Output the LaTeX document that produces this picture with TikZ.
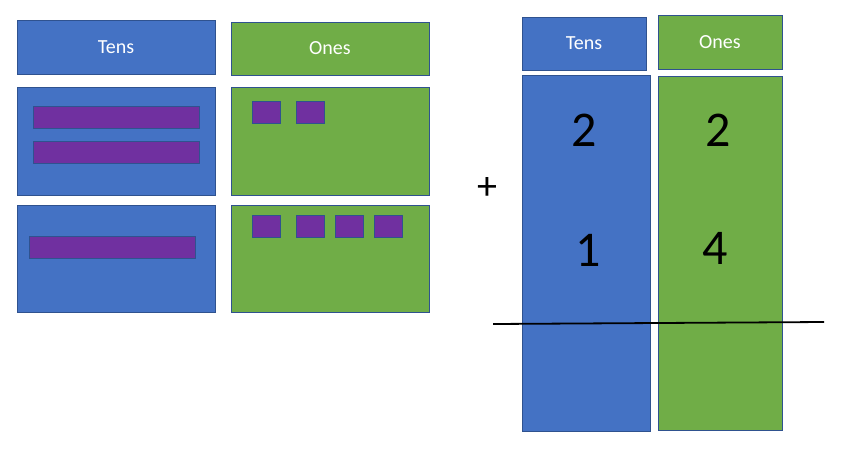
\documentclass[tikz,border=0pt]{standalone}
\usepackage{fontspec}
\setmainfont{Carlito}
\definecolor{bl}{HTML}{4472C4}
\definecolor{gr}{HTML}{70AD47}
\definecolor{pu}{HTML}{7030A0}
\definecolor{bd}{HTML}{2F528F}
\begin{document}
\begin{tikzpicture}[x=1pt,y=-1pt,
 box/.style={draw=bd,line width=0.8pt,inner sep=0pt},
 B/.style={box,fill=bl},G/.style={box,fill=gr},
 P/.style={draw=bd,line width=0.6pt,fill=pu,inner sep=0pt},
 hd/.style={font=\fontsize{20}{20}\selectfont,text=white},
 dg/.style={font=\fontsize{50}{50}\selectfont}]
\useasboundingbox (0,0) rectangle (846,461);
\path[B] (17,20) rectangle (215,74) node[hd,midway] (t1) {Tens};
\path[G] (231,22) rectangle (429,75) node[hd,midway] (o1) {Ones};
\path[B] (17,87) rectangle (215,195) coordinate (b1);
\path[G] (231,87) rectangle (429,195) coordinate (g1);
\path[B] (17,205) rectangle (215,312) coordinate (b2);
\path[G] (231,205) rectangle (429,312) coordinate (g2);
\path[P] (33,106) rectangle (199,128);
\path[P] (33,141) rectangle (199,163);
\path[P] (29,236) rectangle (195,258);
\foreach \x in {252,296} \path[P] (\x,101) rectangle ++(28,22);
\foreach \x in {252,296,335,374} \path[P] (\x,215) rectangle ++(28,22);
\node[font=\fontsize{40}{40}\selectfont] (plus) at (487,188) {+};
\path[B] (522,17) rectangle (646,70) node[hd,midway] (t2) {Tens};
\path[G] (658,15) rectangle (782,69) node[hd,midway] (o2) {Ones};
\path[B] (522,75) rectangle (650,431) coordinate (tb);
\path[G] (658,76) rectangle (782,430) coordinate (tg);
\node[dg] (d1) at (584,130) {2};
\node[dg] (d2) at (718,130) {2};
\node[dg] (d3) at (588,250) {1};
\node[dg] (d4) at (715,248) {4};
\coordinate (l1) at (493,324); \coordinate (l2) at (824,322);
\draw[line width=1.8pt] (l1) -- (l2);
\end{tikzpicture}
\end{document}
